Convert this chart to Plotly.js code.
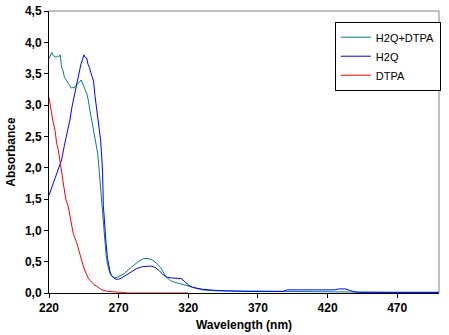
<!DOCTYPE html>
<html>
<head>
<meta charset="utf-8">
<script src="https://cdn.plot.ly/plotly-3.0.1.min.js"></script>
<style>html,body{margin:0;padding:0;background:#fff;}#chart{width:449px;height:335px;}</style>
</head>
<body>
<div id="chart"></div>
<script>
// H2Q+DTPA (teal)
const mixX = [220,221,222,223,224,225,226,227,228,229,230,231,232,233,234,235,236,237,238,239,240,241,242,243,244,245,246,247,248,249,250,251,252,253,254,255,256,257,258,259,260,261,262,263,264,265,267,269,271,274,277,280,284,288,291,294,297,300,302,304,307,310,313,317,321,325,330,340,360,400,440,470,500];
const mixY = [3.74,3.80,3.84,3.79,3.78,3.76,3.78,3.77,3.80,3.61,3.55,3.45,3.41,3.37,3.33,3.29,3.27,3.28,3.27,3.30,3.32,3.35,3.37,3.40,3.36,3.30,3.24,3.19,3.10,2.92,2.83,2.72,2.60,2.48,2.35,2.22,1.96,1.70,1.32,1.05,0.79,0.60,0.45,0.36,0.30,0.27,0.245,0.25,0.27,0.31,0.37,0.43,0.50,0.55,0.55,0.53,0.48,0.41,0.34,0.26,0.20,0.17,0.155,0.13,0.10,0.07,0.05,0.035,0.03,0.03,0.02,0.01,0.01];

// H2Q (blue)
const h2qX = [220,222,224,226,228,229,231,233,235,236.5,237.5,239,240,241,242,243,244,245,246,247,248,249,250,251,252,253,254,255,256,257,258,258.5,259,260,261,262,263,264,265,266,268,270,272,275,279,283,287,290,293,296,299,302,305,308,312,315,317,320,323,326,330,340,360,388,391,410,425,428,433,436,441,470,500];
const h2qY = [1.56,1.68,1.80,1.93,2.05,2.12,2.35,2.55,2.76,2.97,3.08,3.25,3.36,3.50,3.60,3.66,3.72,3.80,3.76,3.75,3.65,3.60,3.52,3.45,3.38,3.15,2.97,2.82,2.65,2.45,2.12,1.90,1.40,1.05,0.78,0.55,0.40,0.32,0.28,0.25,0.22,0.22,0.24,0.28,0.34,0.39,0.42,0.43,0.43,0.41,0.36,0.29,0.25,0.24,0.235,0.23,0.19,0.13,0.09,0.075,0.06,0.04,0.025,0.025,0.05,0.05,0.05,0.065,0.065,0.04,0.01,0.01,0.01];

// DTPA (red)
const dtpaX = [220,221.2,222.7,224.3,225.5,226.7,227.9,230.3,232,233.8,236.3,237.4,239.9,242.2,245,248.2,249.4,252,255.4,258,261.4,264,268,272,276,300,320];
const dtpaY = [3.12,2.95,2.76,2.60,2.39,2.28,2.10,1.70,1.50,1.38,1.11,0.95,0.80,0.60,0.40,0.235,0.21,0.14,0.09,0.05,0.03,0.02,0.015,0.01,0.0,0.0,0.0];

const xTicks = [220,270,320,370,420,470];
const yTicks = [0,0.5,1,1.5,2,2.5,3,3.5,4,4.5];

const traces = [
  {x: mixX, y: mixY, name: 'H2Q+DTPA', mode: 'lines', line: {color: '#008080', width: 1}},
  {x: h2qX, y: h2qY, name: 'H2Q', mode: 'lines', line: {color: '#0000ff', width: 1}},
  {x: dtpaX, y: dtpaY, name: 'DTPA', mode: 'lines', line: {color: '#ff0000', width: 1}}
];

const tickFont = {family: 'Liberation Sans, Arial, sans-serif', size: 12, color: '#000', weight: 'bold'};

const layout = {
  width: 449, height: 335,
  margin: {l: 49, r: 9, t: 11, b: 42},
  paper_bgcolor: '#ffffff', plot_bgcolor: '#ffffff',
  separators: ', ',
  showlegend: true,
  legend: {
    x: 0.731, y: 0.962, xanchor: 'left', yanchor: 'top',
    bordercolor: '#000', borderwidth: 1, bgcolor: '#ffffff',
    font: {family: 'Liberation Sans, Arial, sans-serif', size: 11, color: '#000'},
    itemwidth: 30, tracegroupgap: 0, traceorder: 'normal'
  },
  xaxis: {
    range: [220, 500], tickvals: xTicks, ticktext: xTicks.map(String),
    ticks: 'outside', ticklen: 4, tickcolor: '#000', tickwidth: 1,
    showline: true, linecolor: '#000', linewidth: 1, showgrid: false, zeroline: false,
    tickfont: tickFont,
    title: {text: 'Wavelength (nm)', font: tickFont, standoff: 6}
  },
  yaxis: {
    range: [0, 4.5], tickvals: yTicks, tickformat: '.1f',
    ticks: 'outside', ticklen: 4, tickcolor: '#000', tickwidth: 1,
    showline: true, linecolor: '#000', linewidth: 1, showgrid: false, zeroline: false,
    tickfont: tickFont,
    title: {text: 'Absorbance', font: tickFont, standoff: 6}
  },
  shapes: [
    {type: 'line', xref: 'paper', yref: 'paper', x0: 0, x1: 1, y0: 1, y1: 1, line: {color: '#808080', width: 1}},
    {type: 'line', xref: 'paper', yref: 'paper', x0: 1, x1: 1, y0: 0, y1: 1, line: {color: '#808080', width: 1}}
  ]
};

Plotly.newPlot('chart', traces, layout, {displayModeBar: false, staticPlot: true});
</script>
</body>
</html>
